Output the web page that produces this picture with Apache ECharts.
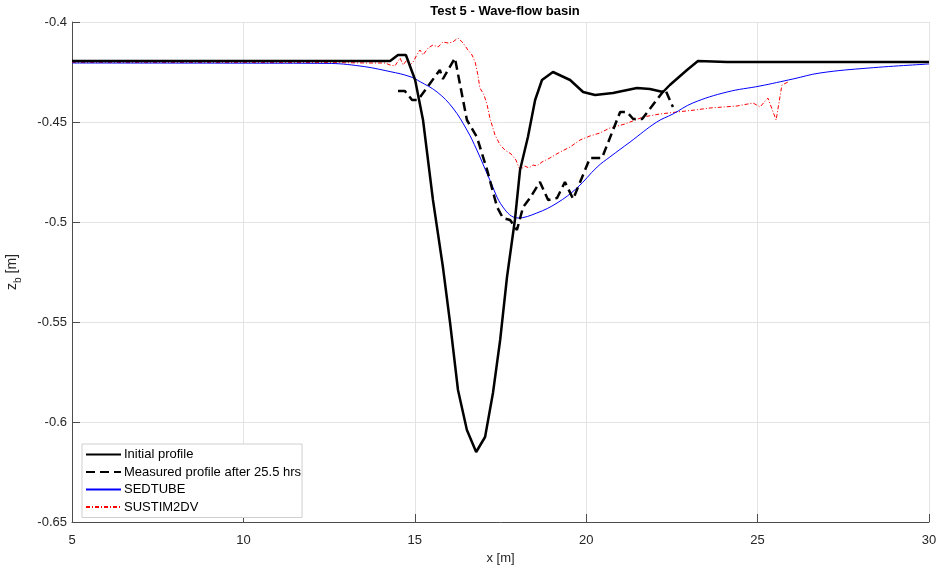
<!DOCTYPE html>
<html>
<head>
<meta charset="utf-8">
<script src="https://cdn.jsdelivr.net/npm/echarts@6/dist/echarts.min.js"></script>
<style>html,body{margin:0;padding:0;background:#fff;}#c{width:940px;height:571px;}</style>
</head>
<body>
<div id="c"></div>
<script>
// ---- data ----
const xTicks = [5, 10, 15, 20, 25, 30];
const yTicks = [-0.65, -0.6, -0.55, -0.5, -0.45, -0.4];

const initialX = [5, 14.28, 14.51, 14.74, 15.01, 15.24, 15.53, 15.82, 16.03, 16.26, 16.52, 16.79, 17.05, 17.28, 17.49, 17.69, 17.92, 18.07, 18.30, 18.51, 18.71, 19.03, 19.53, 19.91, 20.26, 20.78, 21.48, 21.86, 22.24, 22.44, 22.94, 23.26, 24.11, 30];
const initialY = [-0.4195, -0.4195, -0.4165, -0.4165, -0.429, -0.449, -0.489, -0.5225, -0.5505, -0.584, -0.604, -0.615, -0.6075, -0.5855, -0.559, -0.5275, -0.499, -0.474, -0.4575, -0.439, -0.429, -0.425, -0.429, -0.435, -0.4365, -0.4355, -0.433, -0.4335, -0.435, -0.4315, -0.424, -0.4195, -0.42, -0.42];

const measuredX = [14.51, 14.71, 14.92, 15.09, 15.73, 15.82, 16.17, 16.52, 16.81, 17.11, 17.40, 17.57, 17.78, 17.98, 18.16, 18.36, 18.65, 18.89, 19.15, 19.38, 19.62, 20.11, 20.46, 20.99, 21.19, 21.37, 21.63, 22.30, 22.53];
const measuredY = [-0.4345, -0.4345, -0.439, -0.439, -0.424, -0.4285, -0.418, -0.449, -0.4575, -0.474, -0.4925, -0.498, -0.499, -0.504, -0.4925, -0.488, -0.48, -0.489, -0.488, -0.48, -0.4885, -0.468, -0.468, -0.445, -0.445, -0.4485, -0.4485, -0.4335, -0.4425];

const sedtubeX = [5, 10.48, 12.44, 13.40, 14.28, 14.86, 15.15, 15.65, 16.11, 16.52, 16.81, 17.19, 17.57, 18.01, 18.56, 19.15, 19.73, 20.32, 20.69, 21.28, 22.06, 22.53, 23.11, 24.11, 25.07, 26.03, 26.82, 28.25, 30];
const sedtubeY = [-0.4205, -0.4206, -0.4207, -0.422, -0.4248, -0.4273, -0.4298, -0.435, -0.443, -0.454, -0.464, -0.479, -0.4925, -0.498, -0.4955, -0.4905, -0.483, -0.4725, -0.4675, -0.46, -0.45, -0.446, -0.4405, -0.435, -0.432, -0.4285, -0.4255, -0.423, -0.421];

const sustimX = [5, 12.53, 13.69, 14.13, 14.28, 14.42, 14.57, 14.66, 14.77, 14.86, 14.95, 15.06, 15.15, 15.24, 15.39, 15.53, 15.68, 15.82, 15.97, 16.11, 16.26, 16.41, 16.55, 16.67, 16.76, 16.84, 16.90, 17.02, 17.11, 17.19, 17.34, 17.49, 17.63, 17.81, 17.95, 18.07, 18.21, 18.33, 18.45, 18.56, 18.71, 18.94, 19.24, 19.53, 19.82, 20.11, 20.40, 20.69, 21.13, 21.66, 22.15, 22.65, 23.17, 23.61, 24.40, 24.87, 25.07, 25.30, 25.54, 25.71, 25.89];
const sustimY = [-0.4202, -0.4203, -0.4205, -0.4205, -0.4215, -0.422, -0.418, -0.4215, -0.419, -0.4215, -0.42, -0.4165, -0.414, -0.4165, -0.413, -0.4115, -0.4125, -0.41, -0.4105, -0.41, -0.408, -0.4105, -0.414, -0.4165, -0.42, -0.4265, -0.433, -0.4365, -0.4415, -0.448, -0.4565, -0.4615, -0.464, -0.466, -0.469, -0.474, -0.472, -0.473, -0.4715, -0.472, -0.47, -0.468, -0.465, -0.4625, -0.459, -0.457, -0.4555, -0.453, -0.451, -0.4475, -0.446, -0.445, -0.444, -0.443, -0.442, -0.4405, -0.4425, -0.438, -0.449, -0.4315, -0.43];

const seriesNames = ['Initial profile', 'Measured profile after 25.5 hrs', 'SEDTUBE', 'SUSTIM2DV'];

// ---- chart ----
const zip = (xs, ys) => xs.map((x, i) => [x, ys[i]]);
const FONT = '"Liberation Sans", Arial, sans-serif';
const TXT = '#262626';

const chart = echarts.init(document.getElementById('c'), null, { renderer: 'canvas' });
chart.setOption({
  animation: false,
  backgroundColor: '#fff',
  title: {
    text: 'Test 5 - Wave-flow basin',
    left: 500, top: 0, textAlign: 'center',
    textStyle: { fontFamily: FONT, fontSize: 13, fontWeight: 'bold', color: '#000' }
  },
  grid: { left: 72, right: 11, top: 22, bottom: 49, containLabel: false, outerBoundsMode: 'none' },
  legend: {
    orient: 'vertical', left: 82, top: 444,
    itemWidth: 35, itemHeight: 10, itemGap: 4.5,
    padding: [4, 1, 4, 3],
    borderColor: '#cfcfcf', borderWidth: 1, backgroundColor: '#fff',
    itemStyle: { opacity: 0 },
    textStyle: { fontFamily: FONT, fontSize: 13, color: '#000', padding: [0, 0, 0, -2] },
    data: seriesNames
  },
  xAxis: {
    type: 'value', min: 5, max: 30, interval: 5,
    name: 'x [m]', nameLocation: 'middle', nameGap: 30,
    nameTextStyle: { fontFamily: FONT, fontSize: 13, color: TXT },
    axisLine: { show: true, lineStyle: { color: '#4d4d4d', width: 1 } },
    axisTick: { show: true, inside: true, length: 8, lineStyle: { color: '#4d4d4d' } },
    axisLabel: { fontFamily: FONT, fontSize: 13, color: TXT, margin: 12 },
    splitLine: { show: true, lineStyle: { color: '#e3e3e3', width: 1 } }
  },
  yAxis: {
    type: 'value', min: -0.65, max: -0.4, interval: 0.05,
    name: '{z|z}{s|b}{t| [m]}', nameLocation: 'middle', nameGap: 49,
    nameTextStyle: {
      fontFamily: FONT, fontSize: 13, color: TXT,
      rich: {
        z: { fontFamily: FONT, fontSize: 14, color: TXT, lineHeight: 22, verticalAlign: 'middle' },
        s: { fontFamily: FONT, fontSize: 10, color: TXT, lineHeight: 22, verticalAlign: 'bottom' },
        t: { fontFamily: FONT, fontSize: 14, color: TXT, lineHeight: 22, verticalAlign: 'middle' }
      }
    },
    axisLine: { show: true, onZero: false, lineStyle: { color: '#4d4d4d', width: 1 } },
    axisTick: { show: true, inside: true, length: 8, lineStyle: { color: '#4d4d4d' } },
    axisLabel: { fontFamily: FONT, fontSize: 13, color: TXT, margin: 5,
      formatter: v => String(+v.toFixed(2)) },
    splitLine: { show: true, lineStyle: { color: '#e3e3e3', width: 1 } }
  },
  series: [
    {
      name: seriesNames[0], type: 'line', data: zip(initialX, initialY),
      symbol: 'none', smooth: false, z: 4,
      lineStyle: { color: '#000', width: 2.5 }, itemStyle: { color: '#000' }
    },
    {
      name: seriesNames[1], type: 'line', data: zip(measuredX, measuredY),
      symbol: 'none', smooth: false, z: 3,
      lineStyle: { color: '#000', width: 2.5, type: [9, 5] }, itemStyle: { color: '#000' }
    },
    {
      name: seriesNames[2], type: 'line', data: zip(sedtubeX, sedtubeY),
      symbol: 'none', smooth: 0.4, z: 2,
      lineStyle: { color: '#0000ff', width: 1 }, itemStyle: { color: '#0000ff' }
    },
    {
      name: seriesNames[3], type: 'line', data: zip(sustimX, sustimY),
      symbol: 'none', smooth: false, z: 1,
      lineStyle: { color: '#ff0000', width: 1, type: [4, 2, 1, 2] }, itemStyle: { color: '#ff0000' }
    }
  ]
});
</script>
</body>
</html>
